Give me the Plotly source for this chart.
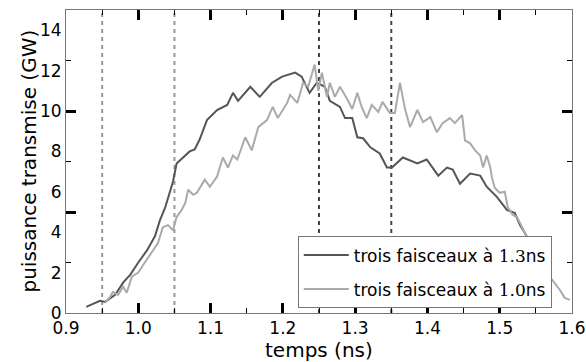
import plotly.graph_objects as go

# temps (ns) / puissance (GW)
t_13 = [0.928, 0.947, 0.954, 0.968, 0.979, 0.989, 1.000, 1.012, 1.023, 1.030, 1.037, 1.044,
        1.048, 1.053, 1.062, 1.071, 1.078, 1.085, 1.095, 1.109, 1.123, 1.131, 1.138, 1.155,
        1.168, 1.185, 1.199, 1.217, 1.226, 1.237, 1.247, 1.258, 1.265, 1.279, 1.286, 1.296,
        1.303, 1.311, 1.321, 1.334, 1.344, 1.351, 1.366, 1.386, 1.399, 1.415, 1.427, 1.435,
        1.445, 1.459, 1.473, 1.482, 1.496, 1.510, 1.521, 1.528, 1.535, 1.545, 1.555]
p_13 = [0.3, 0.6, 0.55, 0.9, 1.5, 1.9, 2.5, 3.1, 3.8, 4.6, 5.2, 6.1,
        6.5, 7.4, 7.7, 8.0, 8.1, 8.6, 9.55, 10.05, 10.3, 10.9, 10.5, 11.2,
        10.7, 11.4, 11.7, 11.9, 11.7, 10.9, 11.4, 11.2, 10.5, 10.2, 9.65, 9.65,
        8.7, 8.65, 8.2, 7.9, 7.2, 7.2, 7.7, 7.4, 7.6, 6.8, 7.2, 7.1,
        6.4, 6.9, 6.8, 6.25, 5.75, 5.1, 4.95, 4.35, 3.95, 3.3, 2.6]

t_10 = [0.954, 0.961, 0.965, 0.972, 0.979, 0.984, 0.991, 1.000, 1.009, 1.019, 1.027, 1.034,
        1.041, 1.048, 1.053, 1.060, 1.065, 1.069, 1.076, 1.081, 1.092, 1.099, 1.109, 1.117,
        1.124, 1.131, 1.137, 1.148, 1.157, 1.166, 1.178, 1.186, 1.193, 1.206, 1.210, 1.220,
        1.228, 1.235, 1.244, 1.249, 1.254, 1.261, 1.265, 1.272, 1.279, 1.289, 1.296, 1.303,
        1.309, 1.316, 1.323, 1.332, 1.338, 1.348, 1.355, 1.362, 1.369, 1.376, 1.386, 1.394,
        1.404, 1.413, 1.421, 1.431, 1.438, 1.448, 1.452, 1.459, 1.466, 1.473, 1.477, 1.482,
        1.487, 1.489, 1.493, 1.500, 1.507, 1.511, 1.518, 1.524, 1.531, 1.535, 1.550, 1.565,
        1.583, 1.590, 1.597]
p_10 = [0.5, 0.8, 1.05, 0.9, 1.3, 1.0, 1.8, 2.0, 2.5, 3.0, 3.45, 4.25,
        4.35, 4.1, 4.75, 5.1, 5.45, 6.1, 5.85, 5.95, 6.6, 6.25, 6.75, 7.7,
        7.2, 7.8, 7.6, 8.7, 8.05, 9.2, 9.55, 10.2, 9.65, 10.4, 10.8, 10.4,
        11.4, 11.2, 12.3, 11.0, 11.9, 10.7, 11.4, 10.7, 11.2, 10.6, 10.1, 10.9,
        10.2, 9.65, 10.3, 9.95, 10.45, 9.9, 9.9, 11.4, 10.1, 9.2, 10.05, 9.45,
        9.7, 8.95, 9.4, 9.65, 9.4, 9.8, 8.55, 8.4, 8.05, 7.8, 7.2, 7.8,
        7.2, 6.75, 6.2, 5.95, 6.0, 5.25, 4.85, 4.75, 4.25, 3.95, 3.0, 2.0,
        1.15, 0.75, 0.65]

x_ticks = [0.9, 1.0, 1.1, 1.2, 1.3, 1.4, 1.5, 1.6]
x_labels = ['0.9', '1.0', '1.1', '1.2', '1.3', '1.4', '1.5', '1.6']
y_ticks = [0, 2, 4, 6, 8, 10, 12, 14]
vlines = [0.95, 1.05, 1.25, 1.35]
vline_colors = ['#9a9a9a', '#9a9a9a', '#444444', '#444444']

num = "<span style='font-family:\"DejaVu Serif\"'>%s</span>"

fig = go.Figure()
fig.add_trace(go.Scatter(x=t_13, y=p_13, mode='lines', line=dict(color='#555555', width=2),
                         legendgroup='a', name='trois faisceaux à ' + num % '1.3' + 'ns'))
fig.add_trace(go.Scatter(x=t_10, y=p_10, mode='lines', line=dict(color='#aaaaaa', width=2),
                         legendgroup='b', name='trois faisceaux à ' + num % '1.0' + 'ns'))
# empty trace so the tick-mark axis gets drawn
fig.add_trace(go.Scatter(x=[None], y=[None], yaxis='y2', showlegend=False, hoverinfo='skip'))

for xv, col in zip(vlines, vline_colors):
    fig.add_shape(type='line', x0=xv, x1=xv, y0=0, y1=1, xref='x', yref='paper',
                  line=dict(color=col, width=2, dash='4px,4px'), layer='below')

fig.add_annotation(text='temps (ns)', x=0.5, y=-0.122, xref='paper', yref='paper',
                   xanchor='center', yanchor='middle', showarrow=False, font=dict(size=20))
fig.add_annotation(text='puissance transmise (GW)', x=-0.075, y=0.5, xref='paper', yref='paper',
                   xanchor='center', yanchor='middle', textangle=-90, showarrow=False,
                   font=dict(size=20))

font = 'DejaVu Sans'
fig.update_layout(
    width=586, height=362,
    margin=dict(l=66, r=14, t=10, b=49),
    plot_bgcolor='white', paper_bgcolor='white',
    font=dict(family=font, color='black'),
    xaxis=dict(range=[0.9, 1.6], tickvals=x_ticks, ticktext=x_labels, automargin=False,
               ticks='inside', ticklen=10, tickwidth=2.5, tickcolor='black',
               minor=dict(dtick=0.05, ticks='inside', ticklen=5, tickwidth=1, tickcolor='black'),
               showline=True, linecolor='#777777', linewidth=1, mirror='ticks',
               showgrid=False, zeroline=False, tickfont=dict(size=17)),
    yaxis=dict(range=[0, 15], tickvals=y_ticks, ticks='', showline=True, automargin=False,
               linecolor='#777777', linewidth=1, mirror=True,
               showgrid=False, zeroline=False, tickfont=dict(size=17)),
    yaxis2=dict(range=[0, 15], overlaying='y', anchor='x', side='left', automargin=False,
                tickvals=[0, 5, 10, 15], showticklabels=False,
                ticks='inside', ticklen=10, tickwidth=2.5, tickcolor='black',
                minor=dict(tickvals=[2.5, 7.5, 12.5], ticks='inside', ticklen=5,
                           tickwidth=1, tickcolor='black'),
                showline=False, mirror='ticks', showgrid=False, zeroline=False),
    legend=dict(x=0.96, y=0.015, xanchor='right', yanchor='bottom',
                bgcolor='white', bordercolor='#777777', borderwidth=1,
                font=dict(size=17), itemwidth=45, tracegroupgap=9),
    showlegend=True,
)

fig.write_html('out.html', config={'displayModeBar': False},
               post_script="document.body.style.margin='0';")
